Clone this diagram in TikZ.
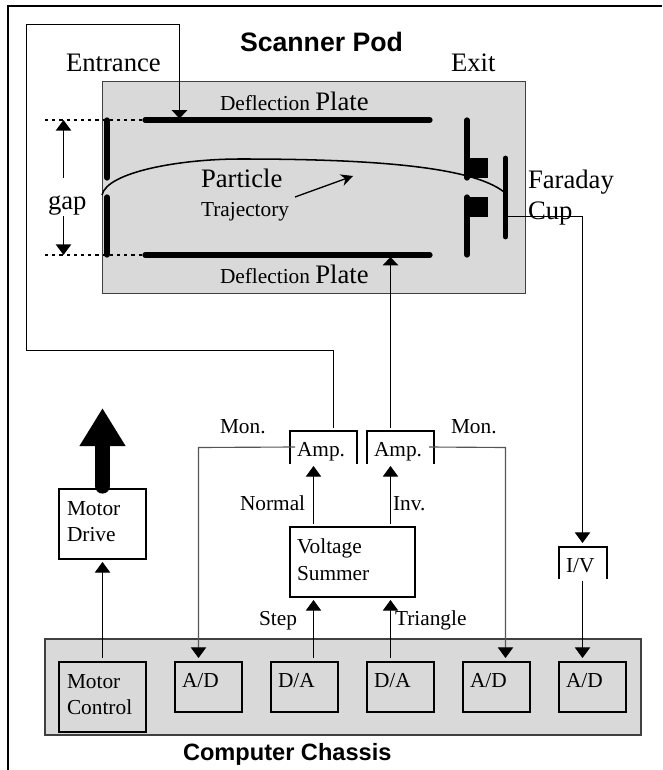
\documentclass[tikz,border=0pt]{standalone}
\usepackage{fontspec}
\setmainfont{Liberation Serif}
\newfontfamily\headfont{Liberation Sans}
\usetikzlibrary{arrows.meta,positioning,calc}
\definecolor{panel}{HTML}{D9D9D9}
\definecolor{monline}{HTML}{555555}
\newcommand{\bigsz}{\fontsize{20}{24}\selectfont}
\newcommand{\smsz}{\fontsize{16}{19}\selectfont}
\tikzset{
  txt/.style={anchor=base west,inner sep=0pt,outer sep=0pt,font=\smsz,text=black},
  bigtxt/.style={txt,font=\bigsz},
  headtxt/.style={txt,font=\headfont\bfseries},
  panelbox/.style={draw=black!75,line width=0.9pt,fill=panel,inner sep=0pt,outer sep=0pt},
  box/.style={draw=black,line width=1.15pt,inner sep=0pt,outer sep=0pt},
  graybox/.style={box,fill=panel},
  whitebox/.style={box,fill=white},
  conn/.style={draw=black,line width=0.85pt,-{Triangle[width=11.5pt,length=8pt]}},
  plateconn/.style={draw=black,line width=0.75pt,-{Triangle[width=11.5pt,length=6.2pt]}},
  monconn/.style={draw=monline,line width=0.85pt,-{Triangle[width=11.5pt,length=8pt,color=black]}},
  plate/.style={draw=black,line width=3.9pt,line cap=round},
  dots/.style={draw=black,line width=1.15pt,dash pattern=on 2.4pt off 3pt},
  ampbox/.style={draw=black,line width=1.15pt}
}
\begin{document}
\begin{tikzpicture}[x=0.75pt,y=-0.75pt]
\useasboundingbox (0,0) rectangle (662,770);
% frame
\draw[black,line width=1.5pt] (7.5,770) -- (7.5,6) -- (662,6);
% panels
\node[panelbox,minimum width=317.5pt,minimum height=158.5pt] (pod) at (314,187.5) {};
\node[panelbox,minimum width=447pt,minimum height=72pt] (chassis) at (343,687) {};
% plates
\coordinate (ptl) at (145,120); \coordinate (ptr) at (430,120);
\coordinate (pbl) at (145,255); \coordinate (pbr) at (430,255);
\draw[plate] (ptl) -- (ptr);
\draw[plate] (pbl) -- (pbr);
\draw[plate] (107,120) -- (107,178);
\draw[plate] (107,197) -- (107,255);
\draw[plate] (467,120) -- (467,178);
\draw[plate] (467,197) -- (467,255);
\fill[black] (467,158) rectangle (488,178);
\fill[black] (467,197) rectangle (488,217);
\draw[plate,line width=3.6pt] (505.5,158) -- (505.5,237);
% dotted gap lines
\coordinate (dtl) at (45,120); \coordinate (dbl) at (45,255);
\draw[dots] (dtl) -- (ptl);
\draw[dots] (dbl) -- (pbl);
% trajectory
\draw[black,line width=1.15pt] (102,195) .. controls (107,172) and (180,159) .. (240,159) .. controls (360,159) and (470,165) .. (504,192);
% gap
\coordinate (gapt) at (63.5,120); \coordinate (gapb) at (63.5,255);
\node[bigtxt] (gaptxt) at (48,209) {gap};
\draw[conn,line width=1.1pt] (63.5,178) -- (gapt);
\draw[conn,line width=1.1pt] (63.5,216) -- (gapb);
% boxes
\node[whitebox,minimum width=65.25pt,minimum height=52.5pt] (md) at (102.5,524) {};
\node[whitebox,minimum width=93.75pt,minimum height=52.5pt] (vs) at (352.5,562) {};
\node[graybox,minimum width=65.25pt,minimum height=52.5pt] (mc) at (102.5,697) {};
\node[graybox,minimum width=50.25pt,minimum height=37.5pt] (ad1) at (208.5,687) {};
\node[graybox,minimum width=50.25pt,minimum height=37.5pt] (da1) at (304.5,687) {};
\node[graybox,minimum width=50.25pt,minimum height=37.5pt] (da2) at (400.5,687) {};
\node[graybox,minimum width=50.25pt,minimum height=37.5pt] (ad2) at (496.5,687) {};
\node[graybox,minimum width=50.25pt,minimum height=37.5pt] (ad3) at (592.5,687) {};
% amplifier and I/V open boxes
\draw[ampbox] (290,463.5) -- (290,431) -- (357,431) -- (357,463.5);
\draw[ampbox] (367,463.5) -- (367,431) -- (434,431) -- (434,463.5);
\draw[ampbox] (559,578.5) -- (559,547) -- (607,547) -- (607,578.5);
% texts
\node[headtxt,font=\headfont\bfseries\fontsize{20}{24}\selectfont] (scanner) at (240,52) {Scanner Pod};
\node[headtxt,font=\headfont\bfseries\fontsize{17.7}{21}\selectfont] (computer) at (183,760) {Computer Chassis};
\node[bigtxt] (entrance) at (66,72) {Entrance};
\node[bigtxt] (exit) at (451,72) {Exit};
\node[txt] (dp1) at (220,111) {Deflection {\bigsz Plate}};
\node[txt] (dp2) at (220,283.5) {Deflection {\bigsz Plate}};
\node[bigtxt] (particle) at (201,187) {Particle};
\node[txt] (traj) at (201,216) {Trajectory};
\node[bigtxt] (faraday) at (528,188) {Faraday};
\node[bigtxt] (cup) at (528,219) {Cup};
\node[txt] (mon1) at (220,433) {Mon.};
\node[txt] (mon2) at (451,433) {Mon.};
\node[txt] (amp1) at (297,456) {Amp.};
\node[txt] (amp2) at (374,456) {Amp.};
\node[txt] (iv) at (566,572) {I/V};
\node[txt] (normal) at (240,510) {Normal};
\node[txt] (inv) at (393,510) {Inv.};
\node[txt] (vs1) at (297,553) {Voltage};
\node[txt] (vs2) at (297,580) {Summer};
\node[txt] (steptxt) at (259,625) {Step};
\node[txt] (tri) at (395,625) {Triangle};
\node[txt] (md1) at (67,515) {Motor};
\node[txt] (md2) at (67,541) {Drive};
\node[txt] (mc1) at (67,688) {Motor};
\node[txt] (mc2) at (67,714) {Control};
\node[txt] (ad1t) at (182,687) {A/D};
\node[txt] (da1t) at (278,687) {D/A};
\node[txt] (da2t) at (374,687) {D/A};
\node[txt] (ad2t) at (470,687) {A/D};
\node[txt] (ad3t) at (566,687) {A/D};
% connector anchor points
\coordinate (ampLtop) at (333.5,428);
\coordinate (ampRtop) at (390.5,428);
\coordinate (ampLbot) at (313.5,466);
\coordinate (ampRbot) at (390.5,466);
\coordinate (monL) at (295,447);
\coordinate (monR) at (429,447);
\coordinate (adin1) at (198.5,658);
\coordinate (adin2) at (505.5,658);
\coordinate (adin3) at (582.5,658);
\coordinate (vsoutL) at (313.5,524);
\coordinate (vsoutR) at (390.5,524);
\coordinate (vsinL) at (313.5,600);
\coordinate (vsinR) at (390.5,600);
\coordinate (daoutL) at (313.5,658);
\coordinate (daoutR) at (390.5,658);
\coordinate (ivtop) at (582.5,543);
\coordinate (ivbot) at (582.5,581);
\coordinate (cupout) at (507,216.5);
\coordinate (platetop) at (179.5,118.5);
\coordinate (platebot) at (390.5,257);
% connectors
\draw[plateconn] (ampLtop) -- (333.5,350.5) -- (26.5,350.5) -- (26.5,24.5) -- (179.5,24.5) -- (platetop);
\draw[plateconn] (ampRtop) -- (platebot);
\draw[conn] (cupout) -- (582.5,216.5) -- (ivtop);
\draw[conn] (ivbot) -- (adin3);
\draw[monconn] (monL) -- (198.5,447.5) -- (adin1);
\draw[monconn] (monR) -- (505.5,447.5) -- (adin2);
\draw[conn] (vsoutL) -- (ampLbot);
\draw[conn] (vsoutR) -- (ampRbot);
\draw[conn] (daoutL) -- (vsinL);
\draw[conn] (daoutR) -- (vsinR);
\draw[conn,shorten <=3pt,shorten >=2.2pt] (mc.north) -- (md.south);
% small annotation arrow
\coordinate (trajfrom) at (295,197); \coordinate (trajto) at (353,176);
\draw[black,line width=1pt,-{Stealth[width=9pt,length=9pt]}] (trajfrom) -- (trajto);
% motion arrow
\coordinate (motiontip) at (102.5,408);
\draw[black,line width=11.25pt,line cap=round,shorten <=2.2pt,-{Triangle[width=32.5pt,length=28.5pt]}] (md.north) -- (motiontip);
\end{tikzpicture}
\end{document}
